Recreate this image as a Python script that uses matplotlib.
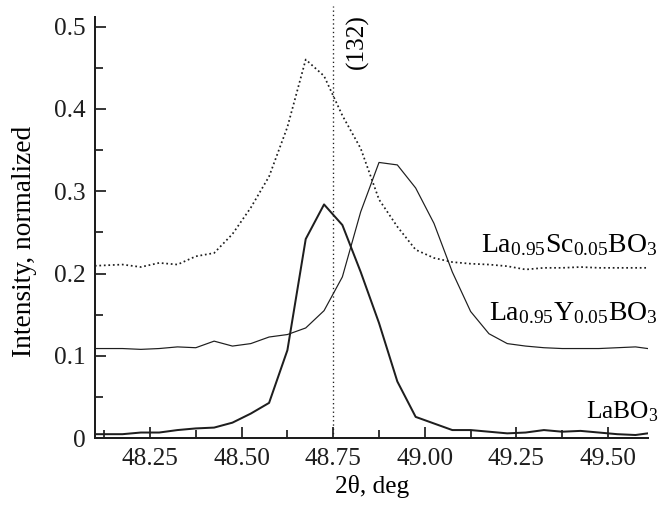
import numpy as np
import matplotlib
matplotlib.use("Agg")
import matplotlib.pyplot as plt
from matplotlib.ticker import MultipleLocator, FuncFormatter

plt.rcParams['font.family'] = ['Liberation Serif', 'DejaVu Serif']
plt.rcParams['mathtext.fontset'] = 'custom'
plt.rcParams['mathtext.rm'] = 'Liberation Serif'
plt.rcParams['mathtext.it'] = 'Liberation Serif:italic'

# 2theta grid, deg
two_theta = [48.075, 48.125, 48.175, 48.225, 48.275, 48.325, 48.375, 48.425,
             48.475, 48.525, 48.575, 48.625, 48.675, 48.725, 48.775, 48.825,
             48.875, 48.925, 48.975, 49.025, 49.075, 49.125, 49.175, 49.225,
             49.275, 49.325, 49.375, 49.425, 49.475, 49.525, 49.575, 49.625]

labo3 = [0.005, 0.005, 0.005, 0.007, 0.007, 0.010, 0.012, 0.013,
         0.019, 0.030, 0.043, 0.107, 0.242, 0.284, 0.259, 0.202,
         0.140, 0.069, 0.026, 0.018, 0.010, 0.010, 0.008, 0.006,
         0.007, 0.010, 0.008, 0.009, 0.007, 0.005, 0.004, 0.007]

la_y = [0.109, 0.109, 0.109, 0.108, 0.109, 0.111, 0.110, 0.118,
        0.112, 0.115, 0.123, 0.126, 0.134, 0.155, 0.196, 0.275,
        0.335, 0.332, 0.304, 0.261, 0.202, 0.154, 0.127, 0.115,
        0.112, 0.110, 0.109, 0.109, 0.109, 0.110, 0.111, 0.108]

la_sc = [0.209, 0.210, 0.211, 0.208, 0.213, 0.211, 0.221, 0.225,
         0.248, 0.280, 0.318, 0.378, 0.460, 0.440, 0.392, 0.352,
         0.290, 0.257, 0.229, 0.219, 0.214, 0.212, 0.211, 0.209,
         0.205, 0.207, 0.207, 0.208, 0.207, 0.207, 0.207, 0.207]

peak_132 = 48.75

fig = plt.figure(figsize=(7, 506 / 96), dpi=96)
ax = fig.add_axes([0.1414, 0.1338, 0.8234, 0.8332])

lc = '#1e1e1e'
ax.plot(two_theta, la_sc, color=lc, lw=1.3, ls=(0, (1, 1.6)))
ax.plot(two_theta, la_y, color=lc, lw=0.9)
ax.plot(two_theta, labo3, color=lc, lw=1.5)
ax.axvline(peak_132, ymin=0, ymax=1.025, color=lc, lw=1.0,
           ls=(0, (1, 2.2)), clip_on=False)

ax.set_xlim(48.1, 49.61)
ax.set_ylim(0, 0.512)

ax.text(48.817, 0.515, "(132)", rotation=90, ha='center', va='top', fontsize=19)
ax.text(49.636, 0.2256, r"La$_{0.95}$Sc$_{0.05}$BO$_3$", ha='right',
        va='baseline', fontsize=20.8)
ax.text(49.636, 0.144, r"La$_{0.95}$Y$_{0.05}$BO$_3$", ha='right',
        va='baseline', fontsize=20.8)
ax.text(49.636, 0.0247, r"LaBO$_3$", ha='right', va='baseline', fontsize=19)

for s in ['top', 'right']:
    ax.spines[s].set_visible(False)
for s in ['left', 'bottom']:
    ax.spines[s].set_linewidth(1.5)
    ax.spines[s].set_color(lc)

ax.xaxis.set_major_locator(MultipleLocator(0.25))
ax.xaxis.set_minor_locator(MultipleLocator(0.125))
ax.yaxis.set_major_locator(MultipleLocator(0.1))
ax.yaxis.set_minor_locator(MultipleLocator(0.05))
ax.xaxis.set_major_formatter(FuncFormatter(lambda v, _: f"{v:.2f}"))
ax.yaxis.set_major_formatter(FuncFormatter(lambda v, _: "0" if abs(v) < 1e-9 else f"{v:.1f}"))

ax.tick_params(which='both', direction='in', colors=lc, width=1.3)
ax.tick_params(which='major', length=8, labelsize=19, pad=7)
ax.tick_params(which='minor', length=6)

ax.set_xlabel("2θ, deg", fontsize=19, labelpad=4)
ax.set_ylabel("Intensity, normalized", fontsize=20.5)
ax.yaxis.set_label_coords(-0.104, 0.468)

fig.savefig("out.png", dpi=96)
